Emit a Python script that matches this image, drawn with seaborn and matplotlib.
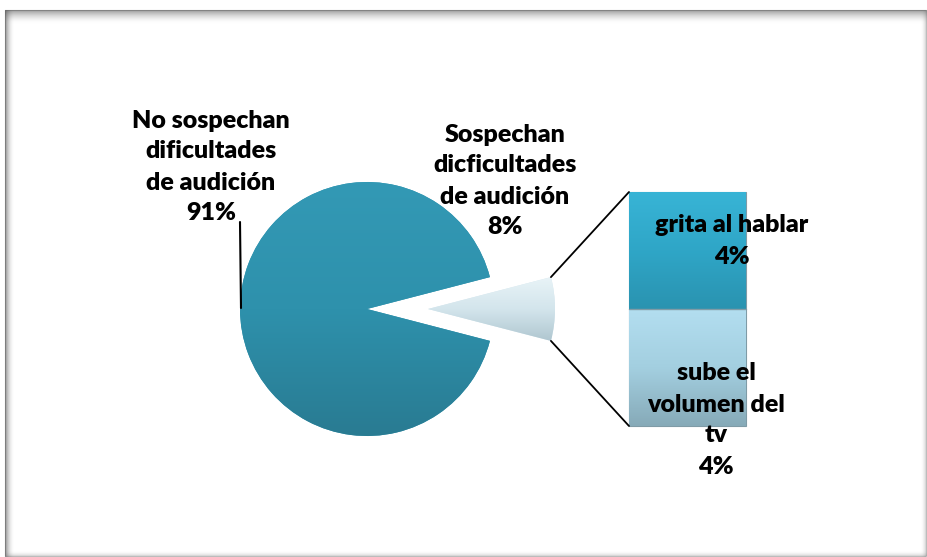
import numpy as np
import seaborn as sns
import matplotlib.pyplot as plt
from matplotlib.patches import Rectangle
from matplotlib.colors import LinearSegmentedColormap

# datos
main_labels = ['Sospechan\ndicficultades\nde audición', 'No sospechan\ndificultades\nde audición']
main_values = [8, 91]
bar_labels = ['sube el\nvolumen del\ntv', 'grita al hablar']
bar_values = [4, 4]

sns.set_style('white')
plt.rcParams['font.family'] = ['Lato', 'DejaVu Sans']

W, H = 928, 557
fig = plt.figure(figsize=(W / 100, H / 100), dpi=100)
ax = fig.add_axes([0, 0, 1, 1])


def py(y):
    # coordenada de pixel (desde arriba) a coordenada de datos
    return H - y


# pastel principal
cx, cy, r = 367, py(309), 127
half = main_values[0] / sum(main_values) * 180
explode_px = 61
wedges, _ = ax.pie(main_values, center=(cx, cy), radius=r, startangle=-half,
                   counterclock=True, explode=[explode_px, 0],
                   colors=['#d5e7ef', '#2f93ae'], frame=True,
                   wedgeprops=dict(ec='none'))
ax.set_xlim(0, W)
ax.set_ylim(0, H)
ax.set_aspect('equal')
ax.axis('off')

# marco con sombra interior
ax.add_patch(Rectangle((5, py(556)), 921, 546, fill=False, ec='#bdbdbd', lw=0.8))
for i in range(14):
    a = 0.55 * (1 - i / 14) ** 2
    ax.plot([5, 926], [py(10 + i), py(10 + i)], color='#555555', alpha=a, lw=0.75)
for i in range(9):
    a = 0.6 * (1 - i / 9) ** 2
    ax.plot([5 + i, 5 + i], [py(10), py(556)], color='#555555', alpha=a, lw=0.75)
for i in range(5):
    a = 0.25 * (1 - i / 5) ** 2
    ax.plot([5, 926], [py(555 - i), py(555 - i)], color='#777777', alpha=a, lw=0.75)
    ax.plot([925 - i, 925 - i], [py(10), py(556)], color='#777777', alpha=a, lw=0.75)

# degradados dentro de las porciones
grad = np.linspace(0, 1, 256).reshape(-1, 1)
cm_main = LinearSegmentedColormap.from_list('m', ['#297b92', '#2e91ac', '#3399b5'])
im = ax.imshow(grad, cmap=cm_main, extent=(cx - r, cx + r, cy - r, cy + r),
               origin='lower', aspect='auto', zorder=2)
im.set_clip_path(wedges[1])
cm_small = LinearSegmentedColormap.from_list('s', ['#a7bfc9', '#d3e5ec', '#eef7fa'])
sx = cx + explode_px
im2 = ax.imshow(grad, cmap=cm_small, extent=(sx, sx + r, cy - 40, cy + 40),
                origin='lower', aspect='auto', zorder=2)
im2.set_clip_path(wedges[0])

# barra apilada
bx0, bx1 = 629, 746
by_bottom, by_top = py(426), py(192)
scale = (by_top - by_bottom) / sum(bar_values)
bar_grads = [['#86aab8', '#a3cfe0', '#b3def0'], ['#2a93b0', '#2fa6c7', '#38b4d6']]
bottom = by_bottom
for v, cols in zip(bar_values, bar_grads):
    bars = ax.bar((bx0 + bx1) / 2, v * scale, width=bx1 - bx0, bottom=bottom,
                  color=cols[1], ec='#7f9ba6', lw=0.8, zorder=3)
    cm_bar = LinearSegmentedColormap.from_list('b', cols)
    imb = ax.imshow(grad, cmap=cm_bar, extent=(bx0, bx1, bottom, bottom + v * scale),
                    origin='lower', aspect='auto', zorder=3.1)
    imb.set_clip_path(bars[0])
    bottom += v * scale
ax.plot([bx0, bx1], [by_bottom + bar_values[0] * scale] * 2, color='#7f9ba6', lw=1, zorder=3.2)
ax.set_xlim(0, W)
ax.set_ylim(0, H)

# líneas de conexión
ang = np.deg2rad(half)
ex = sx + r * np.cos(ang)
ax.plot([ex, bx0], [cy + r * np.sin(ang), by_top], color='black', lw=1.3, zorder=4)
ax.plot([ex, bx0], [cy - r * np.sin(ang), by_bottom], color='black', lw=1.3, zorder=4)

# línea guía de la etiqueta principal
ax.plot([240, 241], [py(222), py(308)], color='black', lw=1.5, zorder=4)

# etiquetas
tk = dict(fontsize=18, fontweight='heavy', ha='center', va='center',
          linespacing=1.5, color='black', zorder=5)
ax.text(211, py(167), f'{main_labels[1]}\n{main_values[1]}%', **tk)
ax.text(505, py(181), f'{main_labels[0]}\n{main_values[0]}%', **tk)
ax.text(732, py(241), f'{bar_labels[1]}\n{bar_values[1]}%', **tk)
ax.text(716, py(420), f'{bar_labels[0]}\n{bar_values[0]}%', **tk)

fig.savefig('out.png', dpi=100)
